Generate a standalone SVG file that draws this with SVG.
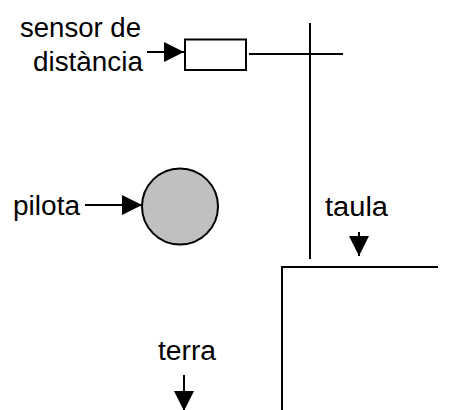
<svg xmlns="http://www.w3.org/2000/svg" width="465" height="410" viewBox="0 0 465 410">
  <style>
    .ln { stroke: #000; stroke-width: 2; fill: none; }
    .lbl { font-family: "Liberation Sans", Arial, sans-serif; font-size: 27px; fill: #000; }
  </style>
  <defs>
    <marker id="head" viewBox="0 0 20 20" refX="20" refY="10" markerWidth="20" markerHeight="20" markerUnits="userSpaceOnUse" orient="auto">
      <path d="M0,0 L20,10 L0,20 Z" fill="#000"/>
    </marker>
  </defs>
  <rect width="465" height="410" fill="#fff"/>

  <!-- stand: vertical post and sensor arm -->
  <g id="stand">
    <line class="ln" x1="310" y1="23" x2="310" y2="259"/>
    <line class="ln" x1="249" y1="54" x2="343" y2="54"/>
  </g>

  <!-- distance sensor -->
  <g id="sensor">
    <rect x="185" y="39.5" width="61" height="30.5" fill="#fff" stroke="#000" stroke-width="2"/>
  </g>

  <!-- ball -->
  <g id="ball">
    <circle cx="180" cy="206.5" r="38" fill="#c0c0c0" stroke="#000" stroke-width="2"/>
  </g>

  <!-- table top and edge -->
  <g id="table">
    <line class="ln" x1="281" y1="267" x2="438" y2="267"/>
    <line class="ln" x1="282" y1="267" x2="282" y2="410"/>
  </g>

  <!-- labels -->
  <g id="labels">
    <text class="lbl" x="20" y="37" textLength="121" lengthAdjust="spacingAndGlyphs">sensor de</text>
    <text class="lbl" x="33" y="71" textLength="110" lengthAdjust="spacingAndGlyphs">distància</text>
    <text class="lbl" x="13" y="215" textLength="67" lengthAdjust="spacingAndGlyphs">pilota</text>
    <text class="lbl" x="325" y="216" textLength="63" lengthAdjust="spacingAndGlyphs">taula</text>
    <text class="lbl" x="158" y="360" textLength="58" lengthAdjust="spacingAndGlyphs">terra</text>
  </g>

  <!-- pointer arrows -->
  <g id="connectors">
    <line class="ln" x1="147" y1="52" x2="184" y2="52" marker-end="url(#head)"/>
    <line class="ln" x1="85" y1="205" x2="142" y2="205" marker-end="url(#head)"/>
    <line class="ln" x1="359" y1="232" x2="359" y2="256" marker-end="url(#head)"/>
    <line class="ln" x1="184" y1="375" x2="184" y2="411" marker-end="url(#head)"/>
  </g>
</svg>
